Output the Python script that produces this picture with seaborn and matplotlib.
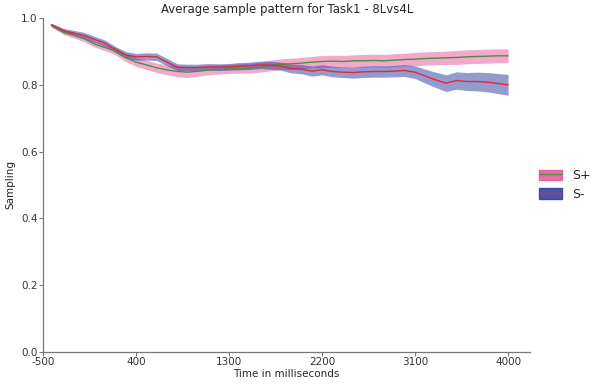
import matplotlib
matplotlib.use("Agg")
import matplotlib.pyplot as plt
import seaborn as sns
import pandas as pd
from matplotlib.patches import Patch
from matplotlib.lines import Line2D

time_ms = [-420, -300, -200, -100, 0, 100, 200, 300, 400, 500, 600, 700, 800, 900,
           1000, 1100, 1200, 1300, 1400, 1500, 1600, 1700, 1800, 1900, 2000, 2100,
           2200, 2300, 2400, 2500, 2600, 2700, 2800, 2900, 3000, 3100, 3200, 3300,
           3400, 3500, 3600, 3700, 3800, 3900, 4000]

s_plus_mean = [0.978, 0.958, 0.948, 0.938, 0.922, 0.912, 0.901, 0.882, 0.868, 0.860,
               0.851, 0.845, 0.840, 0.838, 0.841, 0.844, 0.846, 0.848, 0.849, 0.850,
               0.853, 0.858, 0.862, 0.863, 0.865, 0.868, 0.870, 0.871, 0.870, 0.872,
               0.872, 0.873, 0.872, 0.874, 0.876, 0.877, 0.879, 0.880, 0.881, 0.882,
               0.884, 0.885, 0.886, 0.887, 0.887]
s_plus_err = [0.005, 0.007, 0.008, 0.009, 0.009, 0.010, 0.011, 0.012, 0.013, 0.014,
              0.014, 0.015, 0.016, 0.016, 0.015, 0.014, 0.014, 0.014, 0.014, 0.015,
              0.015, 0.016, 0.016, 0.017, 0.017, 0.017, 0.018, 0.018, 0.018, 0.018,
              0.019, 0.019, 0.019, 0.019, 0.019, 0.020, 0.020, 0.020, 0.020, 0.021,
              0.021, 0.021, 0.021, 0.021, 0.021]

s_minus_mean = [0.980, 0.962, 0.955, 0.948, 0.936, 0.925, 0.906, 0.890, 0.884, 0.885,
                0.884, 0.868, 0.853, 0.852, 0.852, 0.854, 0.853, 0.854, 0.856, 0.857,
                0.860, 0.859, 0.856, 0.849, 0.847, 0.841, 0.845, 0.840, 0.838, 0.837,
                0.839, 0.840, 0.840, 0.841, 0.843, 0.838, 0.826, 0.815, 0.805, 0.813,
                0.810, 0.810, 0.808, 0.804, 0.800]
s_minus_err = [0.005, 0.007, 0.008, 0.009, 0.009, 0.009, 0.009, 0.010, 0.010, 0.011,
               0.011, 0.011, 0.010, 0.010, 0.010, 0.010, 0.010, 0.010, 0.011, 0.011,
               0.011, 0.012, 0.012, 0.013, 0.014, 0.015, 0.015, 0.016, 0.016, 0.017,
               0.017, 0.017, 0.017, 0.017, 0.018, 0.019, 0.021, 0.023, 0.025, 0.026,
               0.027, 0.028, 0.029, 0.030, 0.031]

series_names = ["S+", "S-"]
x_ticks = [-500, 400, 1300, 2200, 3100, 4000]
y_ticks = [0.0, 0.2, 0.4, 0.6, 0.8, 1.0]

sns.set_style("ticks")
plt.rcParams["font.family"] = ["DejaVu Sans"]

band_colors = {"S+": "#e8559b", "S-": "#2b3a9c"}
line_colors = {"S+": "#4a8f42", "S-": "#e3263a"}

df = pd.concat([
    pd.DataFrame({"time": time_ms, "mean": s_plus_mean, "err": s_plus_err, "cond": "S+"}),
    pd.DataFrame({"time": time_ms, "mean": s_minus_mean, "err": s_minus_err, "cond": "S-"}),
])

fig = plt.figure(figsize=(6.1, 3.85), dpi=100)
ax = fig.add_axes([0.0705, 0.086, 0.799, 0.867])

for name in series_names:
    sub = df[df["cond"] == name]
    ax.fill_between(sub["time"], sub["mean"] - sub["err"], sub["mean"] + sub["err"],
                    color=band_colors[name], alpha=0.5, linewidth=0)
for name in series_names:
    sub = df[df["cond"] == name]
    sns.lineplot(data=sub, x="time", y="mean", ax=ax, color=line_colors[name],
                 linewidth=1.0, legend=False)

ax.set_xlim(-500, 4216)
ax.set_ylim(0.0, 1.0)
ax.set_xticks(x_ticks)
ax.set_yticks(y_ticks)
ax.set_xticklabels([str(v) for v in x_ticks], fontsize=7.5)
ax.set_yticklabels([f"{v:.1f}" for v in y_ticks], fontsize=7.5)
ax.set_xlabel("Time in milliseconds", fontsize=7.5, labelpad=1)
ax.set_ylabel("Sampling", fontsize=7.5, labelpad=4)
ax.set_title("Average sample pattern for Task1 - 8Lvs4L", fontsize=8.5, pad=4)
sns.despine(ax=ax)
for sp in ["left", "bottom"]:
    ax.spines[sp].set_color("#777777")
    ax.spines[sp].set_linewidth(0.9)
ax.tick_params(axis="both", colors="#777777", labelcolor="#333333", length=3, width=0.8, pad=1)

handles = []
for name in series_names:
    handles.append((Patch(facecolor=band_colors[name], alpha=0.85, edgecolor=band_colors[name]),
                    Line2D([], [], color=line_colors[name], linewidth=1.0)))
ax.legend(handles, series_names, loc="center left", bbox_to_anchor=(0.995, 0.5),
          frameon=False, fontsize=9, handlelength=1.8, handleheight=0.9,
          labelspacing=0.45, handletextpad=0.8)

fig.savefig("out.png", dpi=100)
